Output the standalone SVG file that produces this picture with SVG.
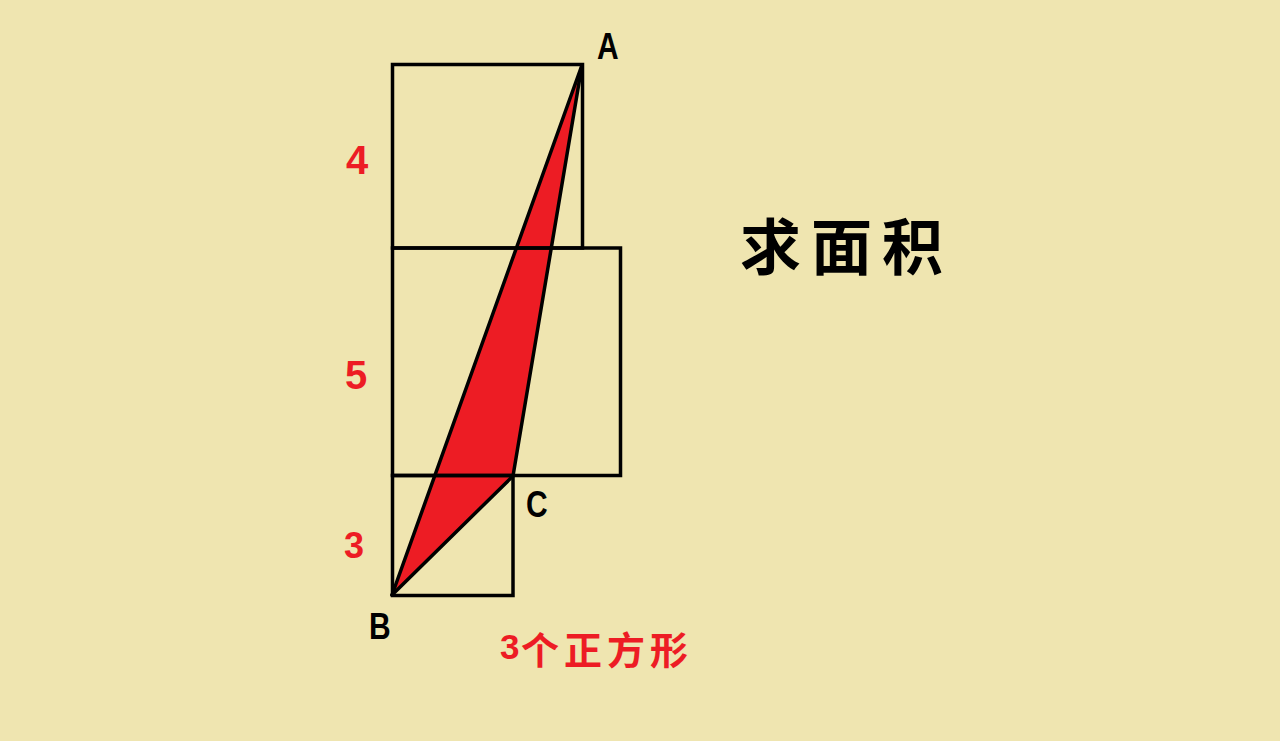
<svg xmlns="http://www.w3.org/2000/svg" width="1280" height="741" viewBox="0 0 1280 741">
<style>
.sq{fill:none;stroke:#000;stroke-width:3.5}
.edge{stroke:#000;stroke-width:3.5;stroke-linecap:round}
.lbl{font-family:"Liberation Sans",Arial,sans-serif;font-weight:bold;fill:#000}
.num{font-family:"Liberation Sans",Arial,sans-serif;font-weight:bold;fill:#ED1C24}
.cjk{font-family:"Noto Sans CJK SC",sans-serif;font-weight:bold}
</style>
<rect width="1280" height="741" fill="#EFE5B0"/>
<g id="shaded">
<polygon points="582,65 392,595 513,476" fill="#ED1C24"/>
</g>
<g id="squares">
<rect id="sq4" class="sq" x="392.5" y="64.5" width="190" height="183.5"/>
<rect id="sq5" class="sq" x="392.5" y="248" width="228" height="227.5"/>
<rect id="sq3" class="sq" x="392.5" y="475.5" width="120.5" height="120"/>
</g>
<g id="connectors">
<line class="edge" x1="582" y1="65" x2="392" y2="595"/>
<line class="edge" x1="582" y1="65" x2="513" y2="476"/>
<line class="edge" x1="513" y1="476" x2="392" y2="595"/>
</g>
<g id="labels">
<text class="lbl" x="597" y="59" font-size="30" transform="translate(597 59) scale(1 1.25) translate(-597 -59)">A</text>
<text class="lbl" x="526" y="517" font-size="30" transform="translate(526 517) scale(1 1.2) translate(-526 -517)">C</text>
<text class="lbl" x="369" y="639" font-size="30" transform="translate(369 639) scale(1 1.25) translate(-369 -639)">B</text>
<text class="num" x="346" y="174" font-size="40">4</text>
<text class="num" x="345" y="389" font-size="40">5</text>
<text class="num" x="344" y="558" font-size="36">3</text>
<text class="num" x="500" y="659" font-size="35">3</text>
<text class="cjk" x="521" y="664" font-size="38" letter-spacing="5" fill="#ED1C24">个正方形</text>
<text class="cjk" x="740" y="270" font-size="61" letter-spacing="10" font-weight="600" fill="#000">求面积</text>
</g>
</svg>
